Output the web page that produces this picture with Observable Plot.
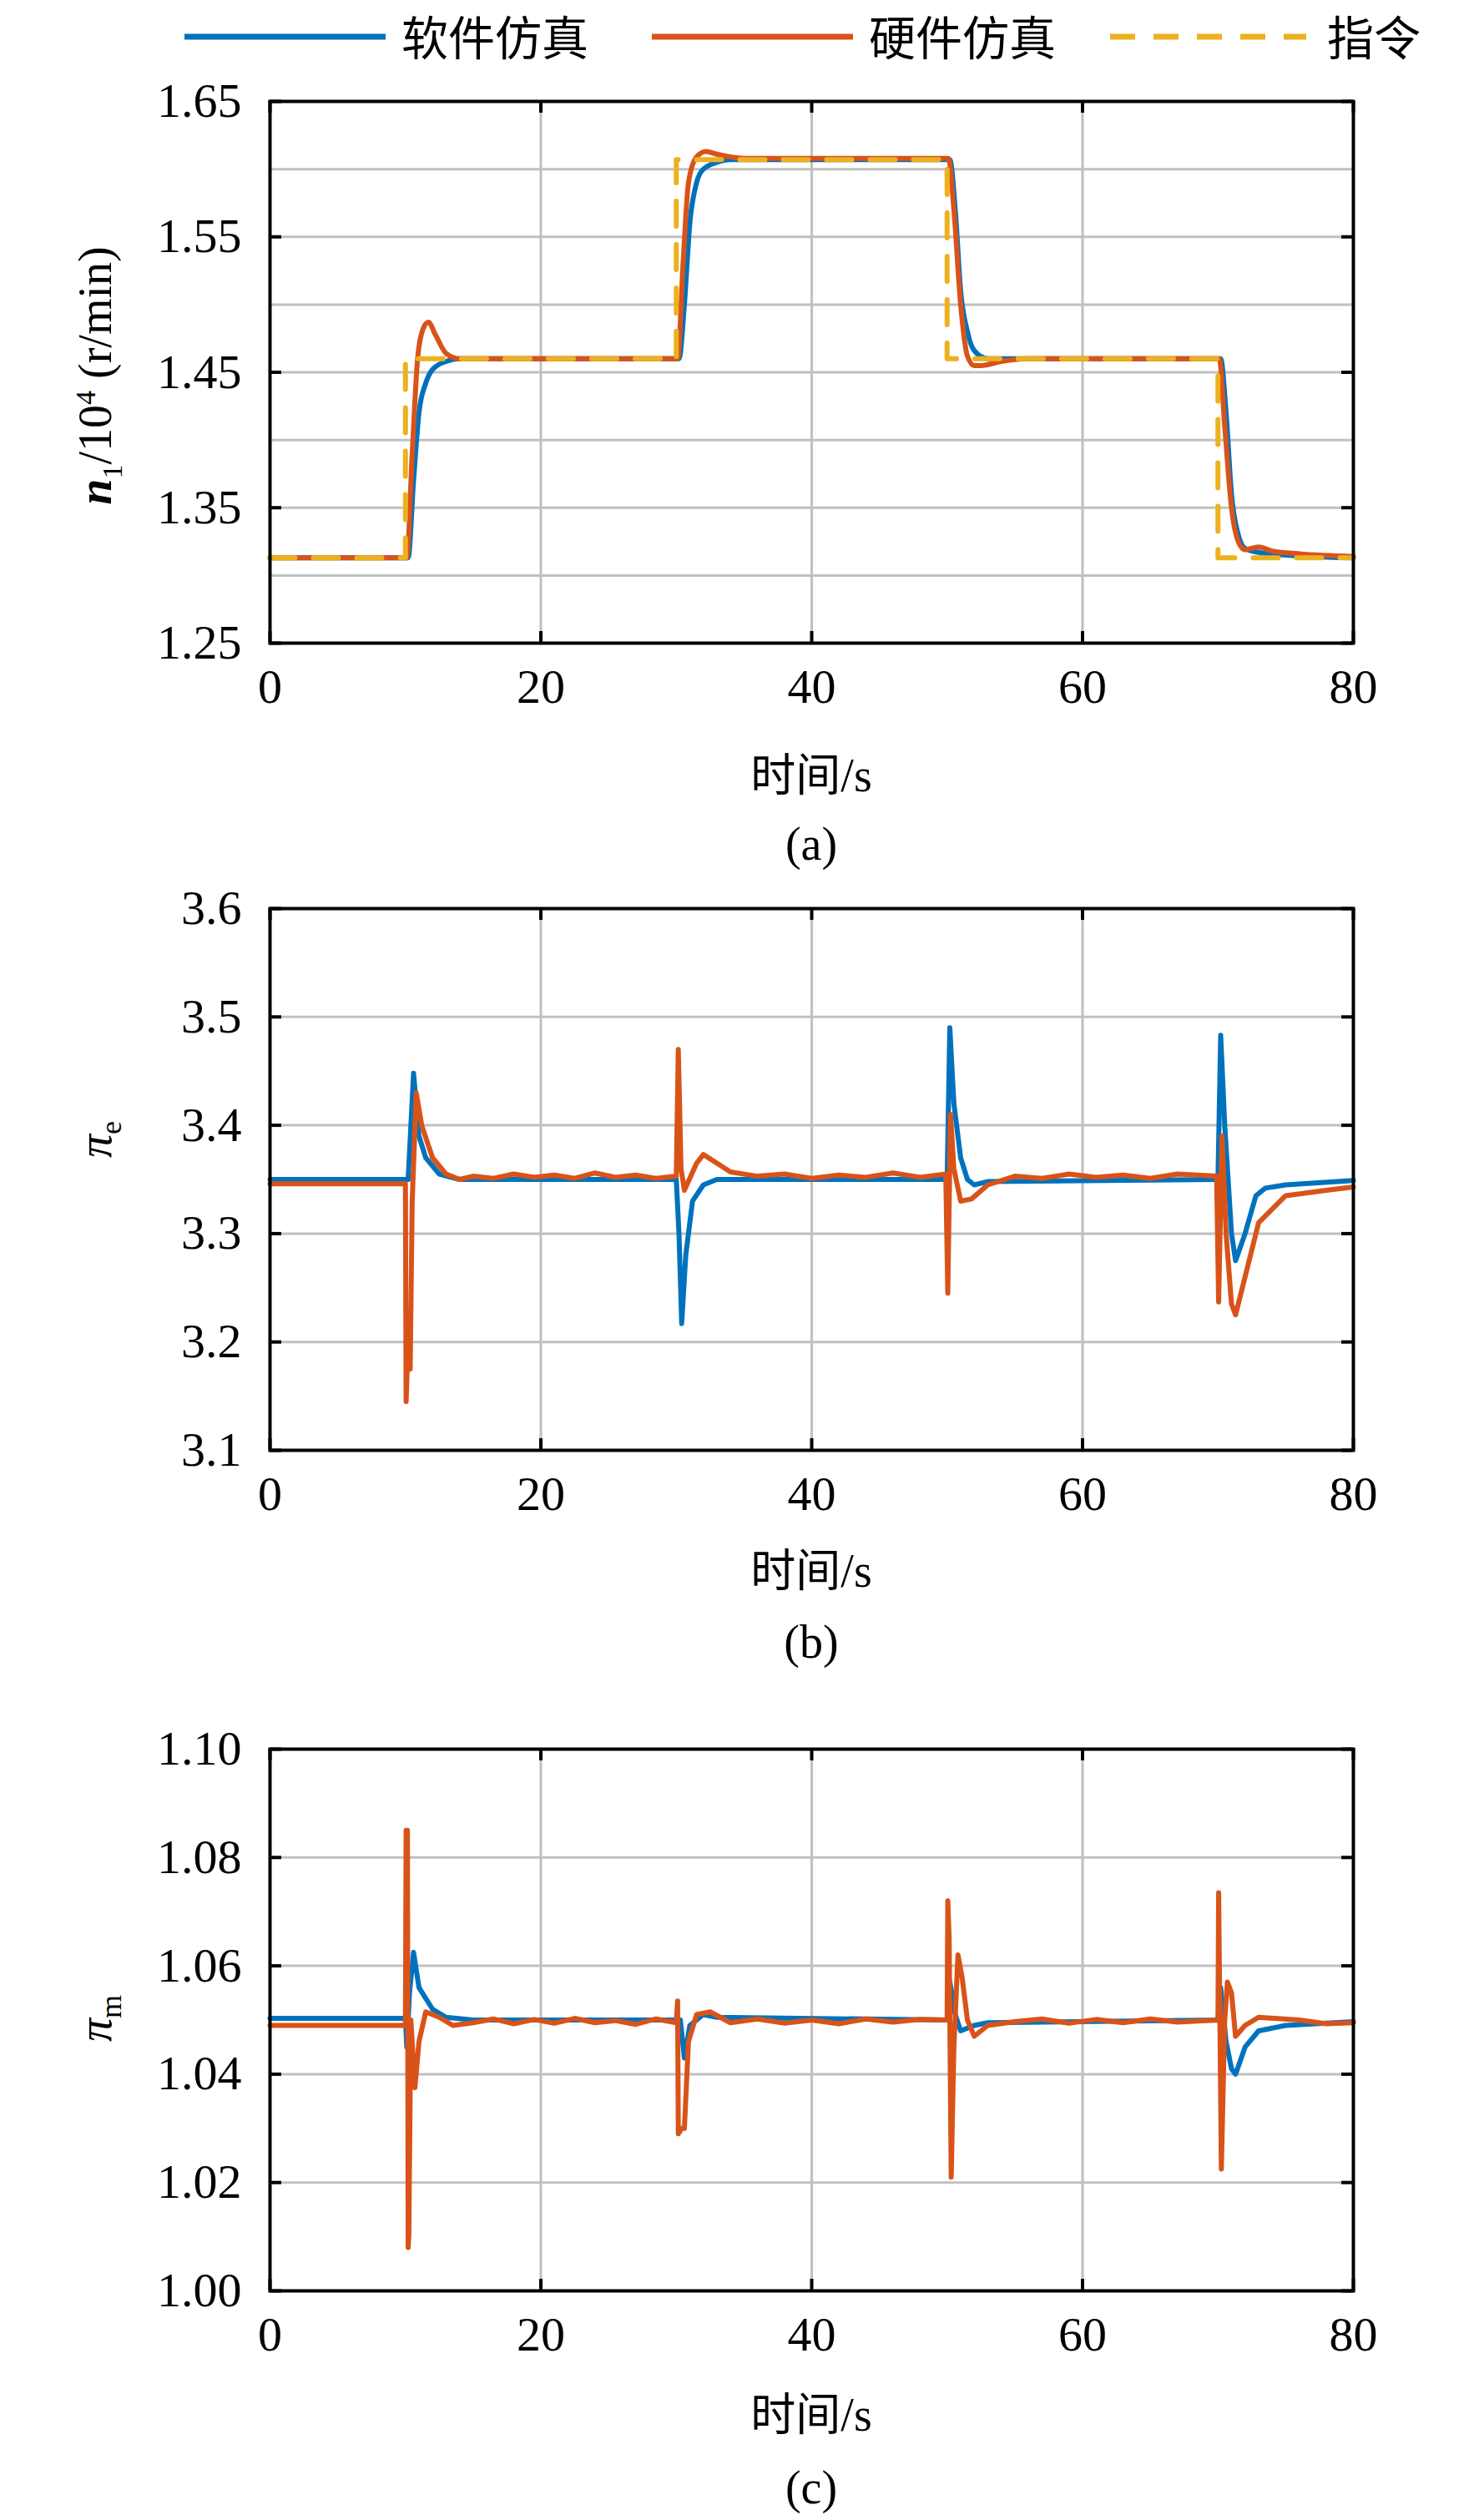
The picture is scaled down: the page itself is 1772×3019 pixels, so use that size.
<!DOCTYPE html>
<html><head><meta charset="utf-8">
<script src="https://cdn.jsdelivr.net/npm/d3@7"></script>
<script src="https://cdn.jsdelivr.net/npm/@observablehq/plot@0.6"></script>
<style>
body{margin:0;background:#fff;width:1772px;height:3019px;position:relative;font-family:"Liberation Serif",serif;}
.abs{position:absolute;}
.t{font-family:"Liberation Serif",serif;font-size:56px;color:#000;}
.cjk{font-family:"Noto Sans CJK SC";}
</style></head><body>
<script>
// ---- data ----
const t1Sw=[0,10.2,10.6,11,11.5,12,13,14,16,30.2,30.6,31,31.5,32,33,34,36,50.2,50.6,51,51.5,52,53,55,70.2,70.6,71,71.5,72,73,75,80];
const n1Sw=[1.313,1.313,1.37,1.42,1.442,1.452,1.458,1.46,1.46,1.46,1.5,1.56,1.59,1.6,1.605,1.607,1.607,1.607,1.57,1.51,1.48,1.466,1.46,1.46,1.46,1.42,1.36,1.33,1.32,1.317,1.315,1.313];
const t1Hw=[0,10.1,10.5,10.9,11.3,11.7,12.2,13,14,30.1,30.5,30.9,31.5,32.2,33,35,50.1,50.5,51,51.5,52,52.5,54,56,70.1,70.5,71,71.5,72,73,74,76,80];
const n1Hw=[1.313,1.313,1.39,1.46,1.482,1.487,1.478,1.464,1.46,1.46,1.53,1.59,1.609,1.613,1.611,1.608,1.608,1.57,1.5,1.462,1.455,1.455,1.458,1.46,1.46,1.41,1.35,1.325,1.319,1.321,1.318,1.316,1.314];
const t1Cmd=[0,10,30,50,70,80];
const n1Cmd=[1.313,1.46,1.607,1.46,1.313,1.313];

const t2Sw=[0,10.2,10.6,11,11.5,12.5,14,30,30.2,30.4,30.7,31.2,32,33,50,50.2,50.5,51,51.5,52,53,70,70.2,70.5,71,71.3,72,72.8,73.5,75,80];
const peSw=[3.35,3.35,3.448,3.39,3.37,3.355,3.35,3.35,3.30,3.217,3.28,3.33,3.345,3.35,3.35,3.49,3.42,3.37,3.35,3.345,3.348,3.35,3.483,3.40,3.30,3.275,3.30,3.335,3.342,3.345,3.349];
const t2Hw=[0,10,10.05,10.2,10.35,10.5,10.8,11.2,12,13,14,15,16.5,18,19.5,21,22.5,24,25.5,27,28.5,30,30.15,30.35,30.6,31.5,32,33,34,36,38,40,42,44,46,48,49.9,50.05,50.25,50.5,51,51.8,53,55,57,59,61,63,65,67,69.9,70.05,70.3,70.6,71,71.3,72,73,75,78,80];
const peHw=[3.346,3.346,3.145,3.2,3.175,3.33,3.43,3.40,3.37,3.355,3.35,3.353,3.351,3.355,3.352,3.354,3.351,3.356,3.352,3.354,3.351,3.353,3.47,3.36,3.34,3.365,3.373,3.365,3.357,3.353,3.355,3.351,3.354,3.352,3.356,3.352,3.355,3.245,3.41,3.36,3.33,3.332,3.345,3.353,3.351,3.355,3.352,3.354,3.351,3.355,3.353,3.237,3.39,3.30,3.235,3.225,3.26,3.31,3.335,3.34,3.343];

const t3Sw=[0,10,10.1,10.3,10.6,11,11.5,12,13,15,30,30.3,30.6,31,32,33,50,50.2,50.6,51,52,53,70,70.2,70.6,71,71.3,72,73,75,80];
const pmSw=[1.0503,1.0503,1.045,1.055,1.0625,1.056,1.054,1.052,1.0505,1.05,1.05,1.05,1.043,1.049,1.051,1.0505,1.05,1.057,1.051,1.048,1.049,1.0495,1.05,1.056,1.046,1.041,1.04,1.045,1.048,1.049,1.0497];
const t3Hw=[0,10,10.05,10.15,10.2,10.25,10.4,10.7,11,11.5,12.5,13.5,15,16.5,18,19.5,21,22.5,24,25.5,27,28.5,30,30.1,30.15,30.4,30.6,30.9,31.5,32.5,34,36,38,40,42,44,46,48,50,50.05,50.15,50.3,50.5,50.8,51.1,51.5,52,53,55,57,59,61,63,65,67,70,70.05,70.25,70.5,70.7,71,71.3,72,73,76,78,80];
const pmHw=[1.049,1.049,1.085,1.085,1.008,1.01,1.05,1.0375,1.046,1.0515,1.0505,1.049,1.0495,1.0502,1.0493,1.0501,1.0494,1.0503,1.0495,1.0499,1.0492,1.0502,1.0495,1.0535,1.029,1.03,1.03,1.046,1.051,1.0515,1.0495,1.0502,1.0494,1.05,1.0493,1.0502,1.0496,1.0501,1.05,1.072,1.065,1.021,1.045,1.062,1.058,1.05,1.047,1.049,1.0497,1.0502,1.0494,1.0501,1.0495,1.0502,1.0496,1.05,1.0735,1.0225,1.05,1.057,1.055,1.047,1.049,1.0505,1.05,1.0493,1.0495];

const xTicks=[0,20,40,60,80];
const blue="#0072BD", orange="#D95319", yellow="#EDB120";
const toRows=(ts,vs)=>ts.map((t,i)=>({t,v:vs[i]}));

function panel(top, yDom, yTicks, yGrid, fmt, series){
  const W=1772, mt=21, mb=4, h=649+mt+mb;
  const dx=80*14/1298, dy=(yDom[1]-yDom[0])*14/649;
  const inner=[
    Plot.ruleY(yTicks,{x1:0,x2:dx,stroke:"#000",strokeWidth:4}),
    Plot.ruleY(yTicks,{x1:80-dx,x2:80,stroke:"#000",strokeWidth:4}),
    Plot.ruleX(xTicks,{y1:yDom[0],y2:yDom[0]+dy,stroke:"#000",strokeWidth:4}),
    Plot.ruleX(xTicks,{y1:yDom[1]-dy,y2:yDom[1],stroke:"#000",strokeWidth:4})
  ];
  const marks=[
    Plot.ruleY(yGrid,{stroke:"#c0c0c0",strokeWidth:3}),
    Plot.ruleX([20,40,60],{stroke:"#c0c0c0",strokeWidth:3}),
    ...series,
    Plot.axisY(yTicks,{anchor:"left",tickSize:0,tickPadding:34,tickFormat:fmt,fontSize:58,label:null}),
    Plot.axisX(xTicks,{anchor:"bottom",tickSize:0,tickPadding:30,fontSize:58,label:null}),
    ...inner,
    Plot.frame({stroke:"#000",strokeWidth:4})
  ];
  const p=Plot.plot({width:W,height:h+90,marginTop:mt,marginBottom:mb+90,marginLeft:323,marginRight:W-1621,
    x:{domain:[0,80],label:null},y:{domain:yDom,label:null},
    style:{fontFamily:"Liberation Serif, serif",fontSize:"58px",color:"#000",background:"transparent",overflow:"visible"},marks});
  p.style.position="absolute"; p.style.left="0px"; p.style.top=(top-mt)+"px";
  document.body.appendChild(p);
}
const L=(ts,vs,c,extra={})=>Plot.line(toRows(ts,vs),{x:"t",y:"v",stroke:c,strokeWidth:6,...extra});

panel(121,[1.25,1.65],[1.25,1.35,1.45,1.55,1.65],d3.range(1.30,1.651,0.05),d3.format(".2f"),
  [L(t1Sw,n1Sw,blue,{curve:"monotone-x"}),L(t1Hw,n1Hw,orange,{curve:"monotone-x"}),
   L(t1Cmd,n1Cmd,yellow,{curve:"step-after",strokeDasharray:"30,22"})]);
panel(1088,[3.1,3.6],[3.1,3.2,3.3,3.4,3.5,3.6],[3.2,3.3,3.4,3.5],d3.format(".1f"),
  [L(t2Sw,peSw,blue),L(t2Hw,peHw,orange)]);
panel(2095,[1.0,1.1],[1.0,1.02,1.04,1.06,1.08,1.1],[1.02,1.04,1.06,1.08],d3.format(".2f"),
  [L(t3Sw,pmSw,blue),L(t3Hw,pmHw,orange)]);

function txt(html,x,y,extra=""){const d=document.createElement("div");d.className="abs t";d.innerHTML=html;
  d.style.cssText+=`left:${x}px;top:${y}px;transform:translate(-50%,-50%) ${extra};white-space:nowrap;`;document.body.appendChild(d);}
[924,1877,2888].forEach(y=>txt('<span class="cjk" style="font-size:54px">时间</span>/s',972,y));
txt("(a)",972,1011);txt("(b)",972,1967);txt("(c)",972,2980);
txt('<i style="font-weight:bold">n</i><sub style="font-size:34px">1</sub>/10<sup style="font-size:34px">4</sup> (r/min)',118,450,"rotate(-90deg)");
txt('<i>π</i><sub style="font-size:36px">e</sub>',118,1365,"rotate(-90deg)");
txt('<i>π</i><sub style="font-size:36px">m</sub>',118,2418,"rotate(-90deg)");
const lg=document.createElement("div");lg.className="abs";lg.style.cssText="left:0;top:0";
lg.innerHTML=`<svg width="1772" height="90"><g font-family="Noto Sans CJK SC" font-size="56">
<line x1="221" x2="462" y1="44" y2="44" stroke="${blue}" stroke-width="7"/><text x="481" y="66">软件仿真</text>
<line x1="781" x2="1022" y1="44" y2="44" stroke="${orange}" stroke-width="7"/><text x="1041" y="66">硬件仿真</text>
<line x1="1330" x2="1565" y1="44" y2="44" stroke="${yellow}" stroke-width="7" stroke-dasharray="30,22"/><text x="1590" y="66">指令</text></g></svg>`;
document.body.appendChild(lg);
</script>
</body></html>
